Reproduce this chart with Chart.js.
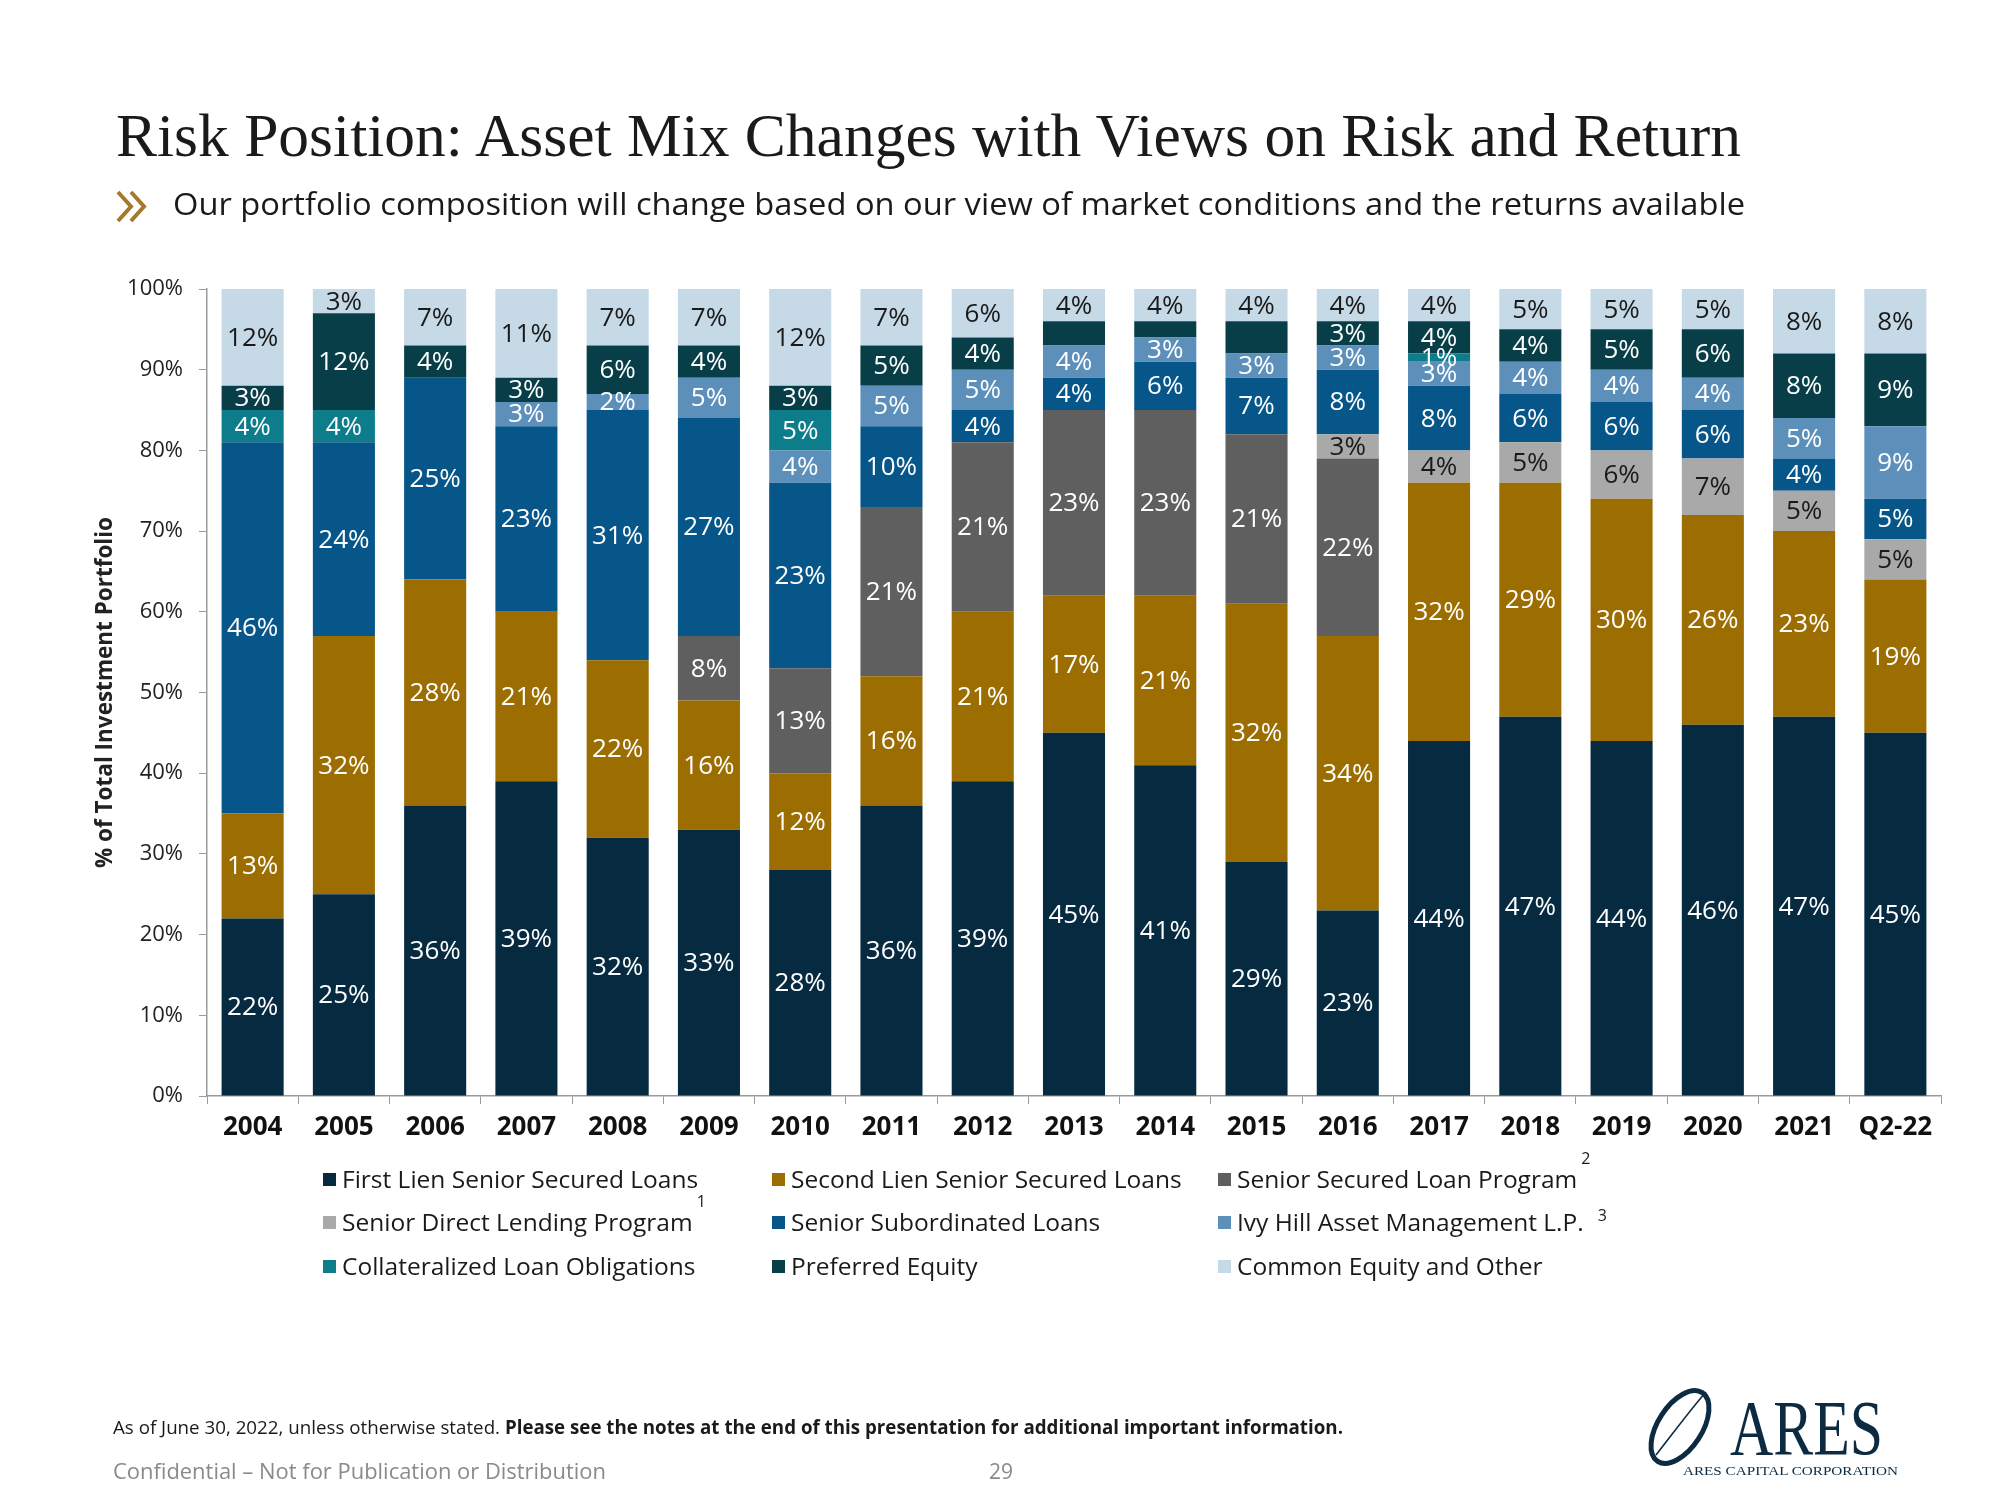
<!DOCTYPE html>
<html>
<head>
<meta charset="utf-8">
<script src="https://cdn.jsdelivr.net/npm/chart.js@4.4.0/dist/chart.umd.min.js"></script>
<style>
  html, body { margin: 0; padding: 0; background: #ffffff; }
  body { width: 2000px; height: 1500px; position: relative; overflow: hidden; }
  #wrap { position: absolute; left: 0; top: 0; width: 2000px; height: 1500px; }
  #overlay { position: absolute; left: 0; top: 0; }
</style>
</head>
<body>
<div id="wrap"><canvas id="c" width="2000" height="1500"></canvas></div>
<svg id="overlay" width="2000" height="1500" xmlns="http://www.w3.org/2000/svg">
  <text x="116" y="156" font-family="Liberation Serif, serif" font-size="62" fill="#1a1a1a" textLength="1625" lengthAdjust="spacingAndGlyphs">Risk Position: Asset Mix Changes with Views on Risk and Return</text>
  <polyline points="118,192 131,206.5 118,221" fill="none" stroke="#a37a2c" stroke-width="4"/>
  <polyline points="131,192 144,206.5 131,221" fill="none" stroke="#a37a2c" stroke-width="4"/>
  <text x="173" y="215" font-family="Open Sans, sans-serif" font-size="31" fill="#1a1a1a" textLength="1572" lengthAdjust="spacingAndGlyphs">Our portfolio composition will change based on our view of market conditions and the returns available</text>
  <g id="legend"></g>
  <text x="113" y="1434" font-family="Open Sans, sans-serif" font-size="19" fill="#1a1a1a" textLength="1230" lengthAdjust="spacingAndGlyphs">As of June 30, 2022, unless otherwise stated. <tspan font-weight="bold">Please see the notes at the end of this presentation for additional important information.</tspan></text>
  <text x="113" y="1479" font-family="Open Sans, sans-serif" font-size="21" fill="#8a8a8a" textLength="493" lengthAdjust="spacingAndGlyphs">Confidential – Not for Publication or Distribution</text>
  <text x="1001" y="1479" text-anchor="middle" font-family="Open Sans, sans-serif" font-size="21" fill="#8a8a8a">29</text>
  <g id="logo">
    <ellipse cx="1680" cy="1427" rx="22" ry="41" transform="rotate(33 1680 1427)" fill="none" stroke="#0c2a40" stroke-width="5"/>
    <path d="M1656,1455 C1668,1440 1690,1410 1706,1392" fill="none" stroke="#0c2a40" stroke-width="1.6"/>
    <text x="1730" y="1454" font-family="Liberation Serif, serif" font-size="78" fill="#0c2a40" textLength="153" lengthAdjust="spacingAndGlyphs">ARES</text>
    <text x="1683" y="1475" font-family="Liberation Serif, serif" font-size="12.5" fill="#0c2a40" textLength="215" lengthAdjust="spacingAndGlyphs">ARES CAPITAL CORPORATION</text>
  </g>
</svg>
<script>
// ---------------- Data ----------------
const categories = ['2004','2005','2006','2007','2008','2009','2010','2011','2012','2013','2014','2015','2016','2017','2018','2019','2020','2021','Q2-22'];
const firstLien    = [22,25,36,39,32,33,28,36,39,45,41,29,23,44,47,44,46,47,45];
const secondLien   = [13,32,28,21,22,16,12,16,21,17,21,32,34,32,29,30,26,23,19];
const sslp         = [0,0,0,0,0,8,13,21,21,23,23,21,22,0,0,0,0,0,0];
const sdlp         = [0,0,0,0,0,0,0,0,0,0,0,0,3,4,5,6,7,5,5];
const subordinated = [46,24,25,23,31,27,23,10,4,4,6,7,8,8,6,6,6,4,5];
const ivyHill      = [0,0,0,3,2,5,4,5,5,4,3,3,3,3,4,4,4,5,9];
const clo          = [4,4,0,0,0,0,5,0,0,0,0,0,0,1,0,0,0,0,0];
const preferred    = [3,12,4,3,6,4,3,5,4,3,2,4,3,4,4,5,6,8,9];
const common       = [12,3,7,11,7,7,12,7,6,4,4,4,4,4,5,5,5,8,8];
const unlabeledPreferred = ['2013','2014','2015'];
const yTicks = [0,10,20,30,40,50,60,70,80,90,100];

const seriesNames = ['First Lien Senior Secured Loans','Second Lien Senior Secured Loans','Senior Secured Loan Program',
  'Senior Direct Lending Program','Senior Subordinated Loans','Ivy Hill Asset Management L.P.',
  'Collateralized Loan Obligations','Preferred Equity','Common Equity and Other'];
const seriesFootnotes = ['','','2','1','','3','','',''];
const seriesValues = [firstLien, secondLien, sslp, sdlp, subordinated, ivyHill, clo, preferred, common];
const seriesColors = ['#062a40','#9c6e02','#5f5f5f','#a9a9a9','#06568a','#5d8fbb','#0d7d8c','#073e47','#c6d9e6'];
const labelColors  = ['#ffffff','#ffffff','#ffffff','#1a1a1a','#ffffff','#ffffff','#ffffff','#ffffff','#1a1a1a'];

const datasets = seriesNames.map((name, i) => ({
  label: name,
  data: seriesValues[i],
  backgroundColor: seriesColors[i],
  borderWidth: 0,
  labelColor: labelColors[i],
  hidden_labels: i === 7 ? unlabeledPreferred.map(c => categories.indexOf(c)) : []
}));

const segLabels = {
  id: 'segLabels',
  afterDatasetsDraw(chart) {
    const ctx = chart.ctx;
    ctx.save();
    ctx.font = '26px "Open Sans"';
    ctx.textAlign = 'center';
    ctx.textBaseline = 'middle';
    chart.data.datasets.forEach((ds, di) => {
      const meta = chart.getDatasetMeta(di);
      meta.data.forEach((bar, i) => {
        const v = ds.data[i];
        if (!v) return;
        if (ds.hidden_labels.includes(i)) return;
        ctx.fillStyle = ds.labelColor;
        ctx.fillText(v + '%', bar.x, (bar.y + bar.base) / 2 + 1);
      });
    });
    ctx.restore();
  }
};

new Chart(document.getElementById('c'), {
  type: 'bar',
  data: { labels: categories, datasets },
  options: {
    responsive: false,
    animation: false,
    layout: { padding: { left: 88, right: 59, top: 289, bottom: 344 } },
    plugins: { legend: { display: false }, tooltip: { enabled: false } },
    datasets: { bar: { categoryPercentage: 1, barPercentage: 0.68 } },
    scales: {
      x: {
        stacked: true,
        afterFit: s => { s.height = 60; },
        grid: { display: true, drawOnChartArea: false, drawTicks: true, tickLength: 8, color: '#9a9a9a', offset: true },
        border: { display: true, color: '#9a9a9a', width: 1.5 },
        ticks: { color: '#111111', padding: 8, font: { family: 'Open Sans', size: 26, weight: 'bold' }, maxRotation: 0, autoSkip: false }
      },
      y: {
        stacked: true,
        min: 0, max: 100,
        afterFit: s => { s.width = 119; },
        afterBuildTicks: s => { s.ticks = yTicks.map(v => ({ value: v })); },
        grid: { display: true, drawOnChartArea: false, drawTicks: true, tickLength: 8, color: '#9a9a9a' },
        border: { display: true, color: '#9a9a9a', width: 1.5 },
        ticks: { color: '#222222', padding: 16, font: { family: 'Open Sans', size: 22 }, callback: v => v + '%' },
        title: { display: true, text: '% of Total Investment Portfolio', color: '#222222', font: { family: 'Open Sans', size: 22.5, weight: 'bold' }, padding: { top: 4, bottom: 4 } }
      }
    }
  },
  plugins: [segLabels]
});

// ---------------- Legend (built from series arrays) ----------------
const NS = 'http://www.w3.org/2000/svg';
const lg = document.getElementById('legend');
const colX = [323, 772, 1218];
const rowY = [1180, 1223, 1267];
seriesNames.forEach((name, i) => {
  const cx = colX[i % 3], cy = rowY[Math.floor(i / 3)];
  const r = document.createElementNS(NS, 'rect');
  r.setAttribute('x', cx); r.setAttribute('y', cy - 7);
  r.setAttribute('width', 13); r.setAttribute('height', 13);
  r.setAttribute('fill', seriesColors[i]);
  lg.appendChild(r);
  const t = document.createElementNS(NS, 'text');
  t.setAttribute('x', cx + 19); t.setAttribute('y', cy + 8);
  t.setAttribute('font-family', 'Open Sans, sans-serif');
  t.setAttribute('font-size', '24.5');
  t.setAttribute('fill', '#1a1a1a');
  t.textContent = name;
  lg.appendChild(t);
  if (seriesFootnotes[i]) {
    const w = t.getComputedTextLength();
    const f = document.createElementNS(NS, 'text');
    const up = seriesFootnotes[i] === '3' ? 0 : 1;
    f.setAttribute('x', cx + 19 + w + (seriesFootnotes[i] === '3' ? 14 : 4));
    f.setAttribute('y', cy + (up ? -16 : -2));
    f.setAttribute('font-family', 'Open Sans, sans-serif');
    f.setAttribute('font-size', '16');
    f.setAttribute('fill', '#1a1a1a');
    f.textContent = seriesFootnotes[i];
    lg.appendChild(f);
  }
});
</script>
</body>
</html>
